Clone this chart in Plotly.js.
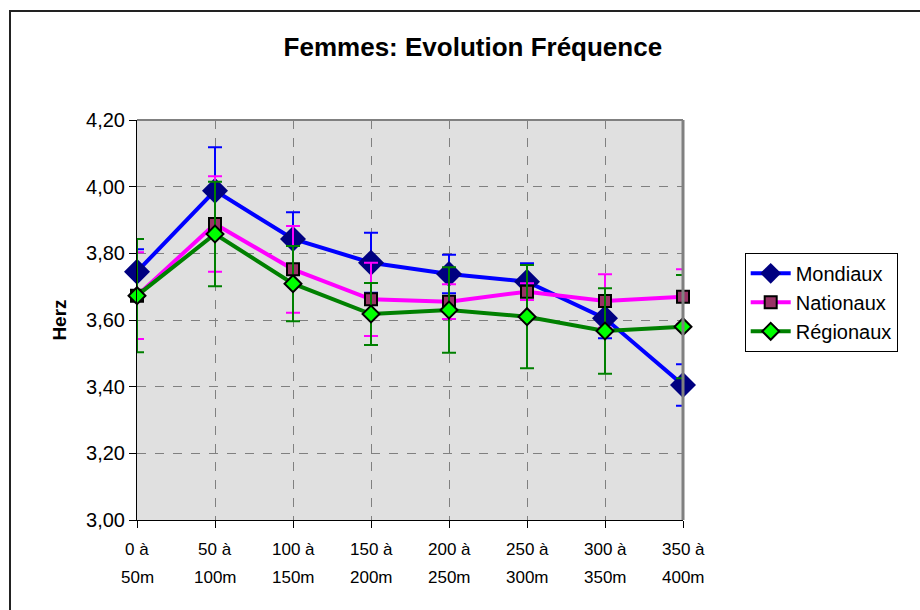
<!DOCTYPE html>
<html>
<head>
<meta charset="utf-8">
<script src="https://cdn.plot.ly/plotly-3.0.1.min.js"></script>
<style>html,body{margin:0;padding:0;background:#fff;}#chart{width:920px;height:610px;}</style>
</head>
<body>
<div id="chart"></div>
<script>
const categories = ["0 à 50m","50 à 100m","100 à 150m","150 à 200m","200 à 250m","250 à 300m","300 à 350m","350 à 400m"];
const tickTop = ["0 à","50 à","100 à","150 à","200 à","250 à","300 à","350 à"];
const tickBottom = ["50m","100m","150m","200m","250m","300m","350m","400m"];
const mondiaux = [3.745, 3.988, 3.843, 3.772, 3.738, 3.715, 3.605, 3.405];
const mondiauxErr = [0.067, 0.13, 0.08, 0.09, 0.058, 0.055, 0.06, 0.062];
const nationaux = [3.673, 3.888, 3.752, 3.662, 3.655, 3.685, 3.657, 3.670];
const nationauxErr = [0.13, 0.143, 0.13, 0.11, 0.052, 0.025, 0.08, 0.082];
const regionaux = [3.673, 3.858, 3.709, 3.618, 3.630, 3.610, 3.567, 3.580];
const regionauxErr = [0.17, 0.157, 0.113, 0.093, 0.128, 0.155, 0.128, 0.155];
const yTicks = [3.0, 3.2, 3.4, 3.6, 3.8, 4.0, 4.2];

const font = "Arial, 'Liberation Sans', sans-serif";
function errObj(arr, color){
  return {type:'data', array:arr, visible:true, color:color, thickness:2, width:7};
}
const traces = [
  {x:categories, y:mondiaux, name:'Mondiaux', type:'scatter', mode:'lines+markers', cliponaxis:false,
   line:{color:'#0000FF', width:4},
   marker:{symbol:'diamond', size:20, color:'#000080', line:{color:'#000080', width:0}},
   error_y:errObj(mondiauxErr,'#0000FF')},
  {x:categories, y:nationaux, name:'Nationaux', type:'scatter', mode:'lines+markers', cliponaxis:false,
   line:{color:'#FF00FF', width:4},
   marker:{symbol:'square', size:12, color:'#993366', line:{color:'#000000', width:2}},
   error_y:errObj(nationauxErr,'#FF00FF')},
  {x:categories, y:regionaux, name:'Régionaux', type:'scatter', mode:'lines+markers', cliponaxis:false,
   line:{color:'#008000', width:4},
   marker:{symbol:'diamond', size:13, color:'#00FF00', line:{color:'#000000', width:2}},
   error_y:errObj(regionauxErr,'#008000')}
];
const annotations = [];
categories.forEach((c, i) => {
  annotations.push({x:c, xref:'x', y:-0.0725, yref:'paper', text:tickTop[i], showarrow:false,
    xanchor:'center', yanchor:'middle', font:{family:font, size:17, color:'#000'}});
  annotations.push({x:c, xref:'x', y:-0.1425, yref:'paper', text:tickBottom[i], showarrow:false,
    xanchor:'center', yanchor:'middle', font:{family:font, size:17, color:'#000'}});
});
const layout = {
  width:920, height:610,
  margin:{l:137, r:237, t:120, b:90},
  paper_bgcolor:'#ffffff', plot_bgcolor:'#E0E0E0',
  font:{family:font, size:18, color:'#000'},
  separators:',.',
  title:{text:'<b>Femmes: Evolution Fréquence</b>', font:{family:font, size:26, color:'#000'},
         x:0.514, xref:'container', xanchor:'center', y:0.923, yref:'container', yanchor:'middle'},
  xaxis:{type:'category', range:[0,7], showgrid:true, gridcolor:'#808080', griddash:'dash', gridwidth:1,
         showline:true, linecolor:'#000', linewidth:1, ticks:'outside', ticklen:7, tickcolor:'#000',
         showticklabels:false, zeroline:false, fixedrange:true},
  yaxis:{range:[3.0,4.2], tickvals:yTicks, tickformat:'.2f', showgrid:true, gridcolor:'#808080', griddash:'dash', gridwidth:1,
         showline:true, linecolor:'#000', linewidth:1, ticks:'outside', ticklen:7, tickcolor:'#000',
         tickfont:{family:font, size:20}, zeroline:false,
         title:{text:'<b>Herz</b>', font:{family:font, size:19}, standoff:14}},
  legend:{x:1.113, xanchor:'left', y:0.668, yanchor:'top', bgcolor:'#fff', bordercolor:'#000', borderwidth:1,
          font:{family:font, size:20}, tracegroupgap:7, itemwidth:40},
  annotations:annotations,
  shapes:[
    {type:'line', xref:'paper', yref:'paper', x0:0, x1:1, y0:1, y1:1, line:{color:'#808080', width:2}},
    {type:'line', xref:'paper', yref:'paper', x0:1, x1:1, y0:0, y1:1, line:{color:'#808080', width:3}},
    {type:'rect', xref:'paper', yref:'paper', x0:-0.2326, x1:1.45, y0:1.2725, y1:-0.25, line:{color:'#222', width:2}, layer:'below'}
  ],
  showlegend:true
};
Plotly.newPlot('chart', traces, layout, {displayModeBar:false, staticPlot:true});
</script>
</body>
</html>
